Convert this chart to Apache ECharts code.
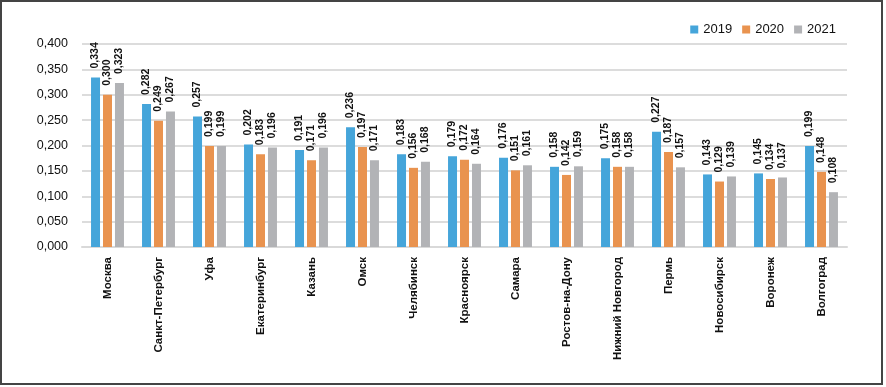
<!DOCTYPE html>
<html><head><meta charset="utf-8">
<script src="https://cdn.jsdelivr.net/npm/echarts@6/dist/echarts.min.js"></script>
<style>html,body{margin:0;padding:0;background:#fff}#c{width:886px;height:387px}</style>
</head><body><div id="c"></div>
<script>
const categories = ['Москва','Санкт-Петербург','Уфа','Екатеринбург','Казань','Омск','Челябинск','Красноярск','Самара','Ростов-на-Дону','Нижний Новгород','Пермь','Новосибирск','Воронеж','Волгоград'];
const seriesNames = ['2019','2020','2021'];
const v2019 = [0.334,0.282,0.257,0.202,0.191,0.236,0.183,0.179,0.176,0.158,0.175,0.227,0.143,0.145,0.199];
const v2020 = [0.300,0.249,0.199,0.183,0.171,0.197,0.156,0.172,0.151,0.142,0.158,0.187,0.129,0.134,0.148];
const v2021 = [0.323,0.267,0.199,0.196,0.196,0.171,0.168,0.164,0.161,0.159,0.158,0.157,0.139,0.137,0.108];
const colors = ['#45a5da','#e9934f','#b2b3b6'];
const FONT = '"Liberation Sans",Arial,sans-serif';
const fmt = v => v.toFixed(3).replace('.', ',');
const chart = echarts.init(document.getElementById('c'));
const mk = (name, data, color) => ({
  name, type: 'bar', data, barWidth: 9, barGap: '33%',
  itemStyle: { color },
  label: { show: true, position: 'top', rotate: 90, align: 'left', verticalAlign: 'middle', distance: 9,
    fontFamily: FONT, fontWeight: 'bold', fontSize: 10.5, color: '#111', formatter: p => fmt(p.value) }
});
chart.setOption({
  animation: false,
  textStyle: { fontFamily: FONT },
  graphic: [{ type: 'rect', shape: { x: 1, y: 1, width: 881, height: 383 }, style: { fill: 'none', stroke: '#444', lineWidth: 2 } }],
  legend: { data: seriesNames, right: 45, top: 18, itemWidth: 8, itemHeight: 8, itemGap: 10, icon: 'rect',
    textStyle: { fontFamily: FONT, fontSize: 13, color: '#111' } },
  grid: { left: 82, right: 39, top: 44, bottom: 140 },
  xAxis: { type: 'category', data: categories,
    axisLine: { lineStyle: { color: '#d9d9d9', width: 2 } }, axisTick: { show: false },
    axisLabel: { interval: 0, rotate: 90, fontFamily: FONT, fontWeight: 'bold', fontSize: 11.5, color: '#111', margin: 10 } },
  yAxis: { type: 'value', min: 0, max: 0.4, interval: 0.05,
    axisLine: { show: false }, axisTick: { show: false },
    splitLine: { lineStyle: { color: '#dcdcdc', width: 2 } },
    axisLabel: { fontFamily: FONT, fontSize: 12.5, color: '#111', margin: 14, formatter: v => fmt(v) } },
  series: [mk('2019', v2019, colors[0]), mk('2020', v2020, colors[1]), mk('2021', v2021, colors[2])]
});
</script></body></html>
